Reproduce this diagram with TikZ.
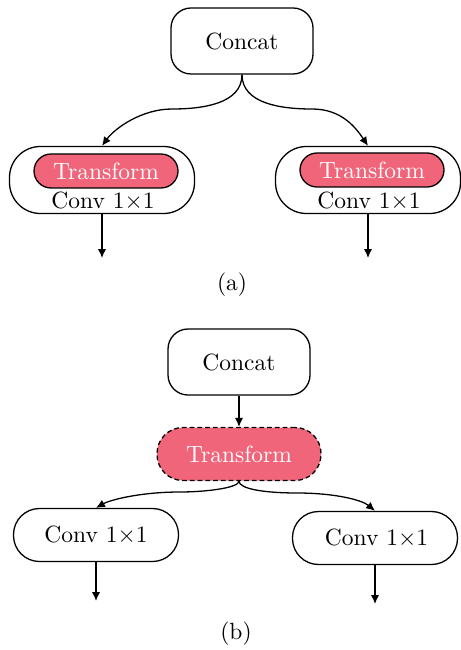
\documentclass[tikz,border=0pt]{standalone}
\usetikzlibrary{arrows.meta}
\newdimen\pxu \pxu=0.426pt
\definecolor{tfpink}{RGB}{241,101,123}
\begin{document}
\begin{tikzpicture}[x=0.426pt,y=-0.426pt,
  every node/.style={inner sep=0pt, line width=0.55pt},
  concatbox/.style={draw, rounded corners=20\pxu, minimum width=142\pxu, minimum height=66\pxu},
  outerbox/.style={draw, rounded corners=31\pxu, minimum width=185\pxu, minimum height=67\pxu},
  pill/.style={draw, fill=tfpink, text=white, rounded corners=17\pxu, minimum width=144\pxu, minimum height=34\pxu},
  dashpill/.style={draw, dashed, dash pattern=on 2pt off 1.3pt, fill=tfpink, text=white, rounded corners=26\pxu, minimum width=164\pxu, minimum height=53\pxu},
  convbox/.style={draw, rounded corners=26\pxu, minimum width=165\pxu, minimum height=53\pxu},
  conn/.style={line width=0.55pt, -{Latex[length=3.8pt,width=3.5pt]}}]
\useasboundingbox (0,0) rectangle (460,650);

% ---- (a) transform inside each branch ----
\node[concatbox] (concatA) at (242,41) {Concat};
\node[outerbox] (outL) at (102,180) {};
\node[pill] (tfL) at (106,171) {Transform};
\node (convL) at (103,201) {Conv 1$\times$1};
\node[outerbox] (outR) at (368,180) {};
\node[pill] (tfR) at (372,170) {Transform};
\node (convR) at (369,201) {Conv 1$\times$1};
\coordinate (endAL) at (102,258);
\coordinate (endAR) at (368,258);

\draw[conn] (concatA.south) .. controls (242,104) and (202,109) .. (172,109)
  .. controls (142,109) and (115,128) .. (outL.north);
\draw[conn] (concatA.south) .. controls (242,104) and (282,109) .. (312,109)
  .. controls (342,109) and (356,128) .. (outR.north);
\draw[conn] (outL.south) -- (endAL);
\draw[conn] (outR.south) -- (endAR);
\node (capA) at (232,285) {(a)};

% ---- (b) shared transform before the branches ----
\node[concatbox] (concatB) at (239,362) {Concat};
\node[dashpill] (tfB) at (239,454) {Transform};
\node[convbox] (convBL) at (96,535) {Conv 1$\times$1};
\node[convbox] (convBR) at (375,538) {\hspace*{3\pxu}Conv 1$\times$1};
\coordinate (endBL) at (96,601);
\coordinate (endBR) at (375,604);

\draw[conn] (concatB.south) -- (tfB.north);
\draw[conn] (tfB.south) .. controls (239,488) and (205,492) .. (180,492)
  .. controls (140,492) and (110,500) .. (convBL.north);
\draw[conn] (tfB.south) .. controls (239,489) and (265,493) .. (297,493)
  .. controls (335,493) and (362,500) .. (convBR.north);
\draw[conn] (convBL.south) -- (endBL);
\draw[conn] (convBR.south) -- (endBR);
\node (capB) at (236,634) {(b)};
\end{tikzpicture}
\end{document}
